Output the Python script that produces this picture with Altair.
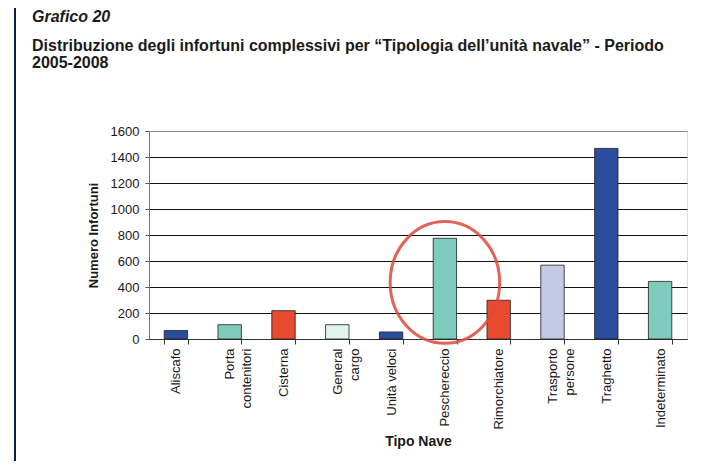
import altair as alt
import pandas as pd

categories = ["Aliscafo", "Porta contenitori", "Cisterna", "General cargo", "Unità veloci",
              "Peschereccio", "Rimorchiatore", "Trasporto persone", "Traghetto", "Indeterminato"]
values = [65, 110, 218, 110, 54, 775, 298, 568, 1466, 443]
bar_colors = ["#2a4d9e", "#7fccbf", "#e94b2f", "#e2f3ef", "#2a4d9e",
              "#7fccbf", "#e94b2f", "#c3cae6", "#2a4d9e", "#7fccbf"]
y_ticks = [0, 200, 400, 600, 800, 1000, 1200, 1400, 1600]
two_line_labels = ["Porta contenitori", "General cargo", "Trasporto persone"]

highlight_category = ["Peschereccio"]
highlight_center = [435]

header_lines = ["Grafico 20",
                "Distribuzione degli infortuni complessivi per \u201cTipologia dell\u2019unità navale\u201d - Periodo",
                "2005-2008"]

FONT = "Liberation Sans"
TXT = "#1a1a1a"

df = pd.DataFrame({"tipo": categories, "n": values})
hl = pd.DataFrame({"tipo": highlight_category, "n": highlight_center})

label_expr = ("indexof([" + ",".join("'" + s + "'" for s in two_line_labels) +
              "], datum.label) >= 0 ? split(datum.label, ' ') : datum.label")

x_enc = alt.X(
    "tipo:N", sort=categories, title="Tipo Nave",
    scale=alt.Scale(paddingInner=0.565, paddingOuter=0.2825),
    axis=alt.Axis(
        labelAngle=270, labelAlign="right", labelBaseline="middle",
        labelExpr=label_expr, labelLineHeight=17, labelPadding=4,
        labelFont=FONT, labelFontSize=13, labelColor=TXT,
        tickBand="extent", tickSize=5, tickColor="#333", domainColor="#333",
        titleFont=FONT, titleFontSize=14, titleFontWeight="bold", titleColor=TXT,
        titlePadding=6, grid=False,
    ),
)

y_enc = alt.Y(
    "n:Q", title="Numero Infortuni",
    scale=alt.Scale(domain=[0, 1600], nice=False),
    axis=alt.Axis(
        values=y_ticks, format="d", labelOverlap=False,
        tickSize=4, tickColor="#555", domainColor="#777",
        labelFont=FONT, labelFontSize=13, labelColor=TXT, labelPadding=6,
        titleFont=FONT, titleFontSize=13, titleFontWeight="bold", titleColor=TXT,
        titlePadding=10,
        grid=True,
        gridColor=alt.ConditionalAxisColor(
            condition={"test": "datum.value == 1600", "value": "#8a8a8a"}, value="#111111"
        ),
        gridWidth=1,
    ),
)

bars = alt.Chart(df).mark_bar(stroke="#1e1e1e", strokeWidth=0.8).encode(
    x=x_enc,
    y=y_enc,
    color=alt.Color("tipo:N", scale=alt.Scale(domain=categories, range=bar_colors), legend=None),
)

ellipse_path = "M -0.9 0 A 0.9 1 0 1 0 0.9 0 A 0.9 1 0 1 0 -0.9 0 Z"
ring = alt.Chart(hl).mark_point(
    shape=ellipse_path, size=14800, filled=False, stroke="#e0483a",
    strokeWidth=3, opacity=0.85,
).encode(
    x=x_enc,
    y=y_enc,
)

border = alt.Chart(hl).mark_rule(color="#0b1f3f", strokeWidth=2).encode(
    x=alt.value(-134), y=alt.value(-125), y2=alt.value(335)
)

hdr0 = alt.Chart(hl).mark_text(
    text=header_lines[0], font=FONT, fontSize=16, fontStyle="italic", fontWeight="bold",
    color=TXT, align="left", baseline="alphabetic",
).encode(x=alt.value(-117), y=alt.value(-109))

hdr1 = alt.Chart(hl).mark_text(
    text=header_lines[1], font=FONT, fontSize=16, fontWeight="bold",
    color=TXT, align="left", baseline="alphabetic",
).encode(x=alt.value(-117), y=alt.value(-80))

hdr2 = alt.Chart(hl).mark_text(
    text=header_lines[2], font=FONT, fontSize=16, fontWeight="bold",
    color=TXT, align="left", baseline="alphabetic",
).encode(x=alt.value(-117), y=alt.value(-63))

chart = alt.layer(bars, ring, border, hdr0, hdr1, hdr2).properties(
    width=538, height=208,
    autosize=alt.AutoSizeParams(type="none"),
    padding={"left": 141, "top": 123, "right": 25, "bottom": 122},
).configure_view(stroke="#8a8a8a", strokeWidth=1).configure(background="white")

chart.save("out.html", embed_options={"renderer": "svg", "actions": False})
